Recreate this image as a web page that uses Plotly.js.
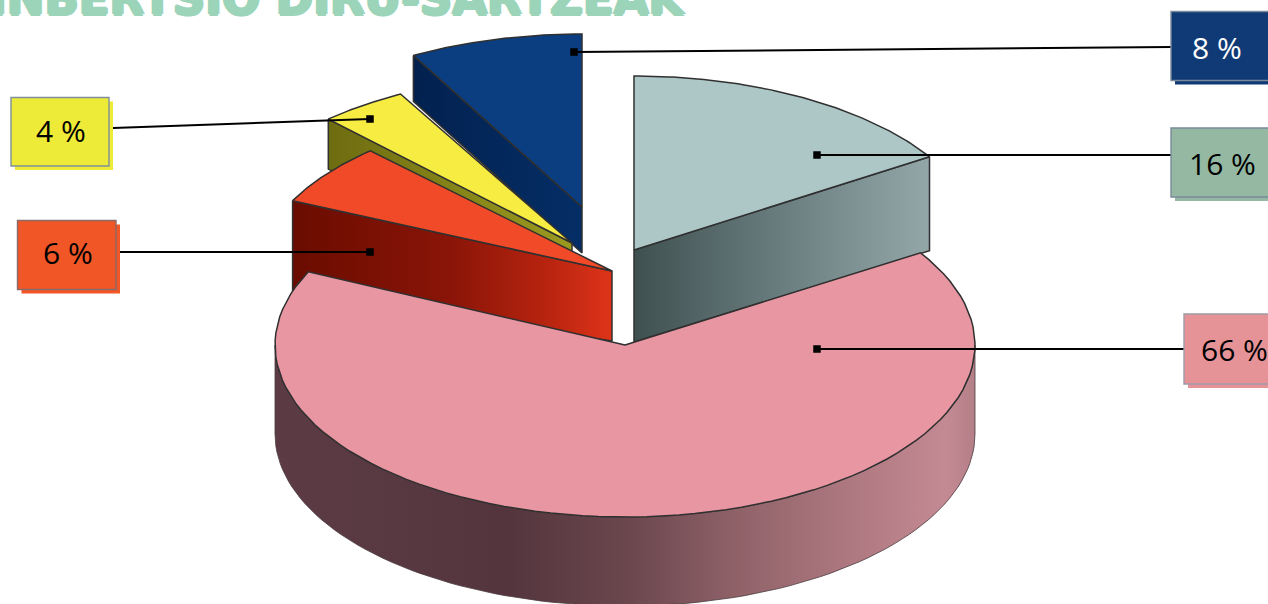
<!DOCTYPE html>
<html><head><meta charset="utf-8">
<script src="https://cdn.plot.ly/plotly-3.0.1.min.js"></script>
<style>html,body{margin:0;padding:0;background:#fff;overflow:hidden}</style>
</head><body><div id="chart" style="width:1268px;height:604px"></div>
<script>
// ---- data ----
const chartTitle = "INBERTSIO DIRU-SARTZEAK";
const percentValues = [16, 66, 6, 4, 8];           // clockwise from 12 o'clock
const percentLabels = ["16 %", "66 %", "6 %", "4 %", "8 %"];

// ---- styles ----
const topColors = ["#adc7c7", "#e896a2", "#f04a28", "#f6ec42", "#0a3e80"];
const boxColors = ["#95b8a3", "#e69398", "#f15627", "#eeea38", "#0f3a75"];
const boxBorders = ["#7a8a9a", "#a09aa8", "#8a6a6a", "#7f8f9a", "#7a8a9a"];
const textColors = ["#000", "#000", "#000", "#000", "#fff"];
const wallScales = [
  [[0,"#3f5050"],[0.45,"#66797a"],[1,"#93a7a9"]],
  [[0,"#5c3b45"],[0.33,"#54353d"],[0.5,"#6a464d"],[0.66,"#8f6268"],[0.82,"#ae7880"],[0.96,"#c48a93"],[1,"#b47f88"]],
  [[0,"#6a0c00"],[0.5,"#8a1508"],[0.8,"#b8240f"],[1,"#de3419"]],
  [[0,"#6e6c10"],[1,"#9a9a20"]],
  [[0,"#02214f"],[1,"#052e66"]]
];
// ---- projection of each exploded slice (pixel space of the hidden axes) ----
const radiusX = [350, 350, 353, 356, 350];
const radiusY = [174, 172, 165, 170, 173];
const apexX = [634, 625, 612, 572, 582];
const apexY = [250, 345, 271, 243, 207];
const wallDepth = [92, 89, 70, 50, 46];
// ---- label boxes / leaders ----
const boxX0 = [1171, 1184, 17.5, 11, 1171];
const boxX1 = [1275, 1275, 116, 109, 1275];
const boxY0 = [128, 314, 220.5, 97.5, 11.5];
const boxY1 = [197, 384, 289.5, 166, 80.5];
const textX = [1222, 1234, 68, 60.5, 1217];
const textY = [163.5, 349, 252.5, 130, 47];
const leadX0 = [817, 817, 370, 370, 574];
const leadY0 = [155, 349, 252, 119, 52];
const leadX1 = [1171, 1188, 120, 113, 1171];
const leadY1 = [155, 349, 252, 128, 47];

const total = percentValues.reduce((a, b) => a + b, 0);
let acc = 0;
const startT = [], endT = [];
percentValues.forEach(v => { startT.push(acc / total * 2 * Math.PI); acc += v; endT.push(acc / total * 2 * Math.PI); });

function arc(i, t0, t1, cy) {
  const xs = [], ys = [], n = 90;
  for (let k = 0; k <= n; k++) {
    const t = t0 + (t1 - t0) * k / n;
    xs.push(apexX[i] + radiusX[i] * Math.sin(t));
    ys.push(cy - radiusY[i] * Math.cos(t));
  }
  return [xs, ys];
}
const outline = "#303030";
function poly(xs, ys, style) {
  return Object.assign({ type: "scatter", mode: "lines", x: xs, y: ys, fill: "toself",
    hoverinfo: "skip", showlegend: false, line: { color: outline, width: 1.5 } }, style);
}
function topFace(i) {
  const [xs, ys] = arc(i, startT[i], endT[i], apexY[i]);
  return poly([apexX[i], ...xs, apexX[i]], [apexY[i], ...ys, apexY[i]], { fillcolor: topColors[i] });
}
function grad(i) { return { fillgradient: { type: "horizontal", colorscale: wallScales[i] } }; }
// radial wall along the edge at angle t
function radialWall(i, t, extraOuter) {
  const ex = apexX[i] + radiusX[i] * Math.sin(t), ey = apexY[i] - radiusY[i] * Math.cos(t), d = wallDepth[i];
  const xs = [ex, apexX[i], apexX[i], ex, ex];
  const ys = [ey, apexY[i], apexY[i] + d, ey + d + (extraOuter || 0), ey];
  return poly(xs, ys, grad(i));
}
function outerWall(i) {
  const [xs, ys] = arc(i, Math.PI / 2, 3 * Math.PI / 2, apexY[i]);
  const xb = xs.slice().reverse(), yb = ys.map(v => v + wallDepth[i]).reverse();
  return poly([...xs, ...xb, xs[0]], [...ys, ...yb, ys[0]],
    Object.assign(grad(i), { line: { color: "#4a3a3e", width: 0.8 } }));
}

const traces = [
  radialWall(4, startT[4]), topFace(4),
  radialWall(3, startT[3]), topFace(3),
  radialWall(2, startT[2], 22), topFace(2),
  radialWall(0, endT[0], 2), topFace(0),
  outerWall(1), topFace(1)
];
percentValues.forEach((v, i) => {
  traces.push({ type: "scatter", mode: "lines", x: [leadX0[i], leadX1[i]], y: [leadY0[i], leadY1[i]],
    line: { color: "#000", width: 2 }, hoverinfo: "skip", showlegend: false });
  traces.push({ type: "scatter", mode: "markers", x: [leadX0[i]], y: [leadY0[i]],
    marker: { symbol: "square", size: 7.5, color: "#000", line: { width: 0 } }, hoverinfo: "skip", showlegend: false });
});

const shapes = [], annotations = [];
percentValues.forEach((v, i) => {
  shapes.push({ type: "rect", layer: "above", x0: boxX0[i] + 4, x1: boxX1[i] + 4, y0: boxY0[i] + 4, y1: boxY1[i] + 4,
    fillcolor: boxColors[i], line: { width: 0 } });
  shapes.push({ type: "rect", layer: "above", x0: boxX0[i], x1: boxX1[i], y0: boxY0[i], y1: boxY1[i],
    fillcolor: boxColors[i], line: { color: boxBorders[i], width: 1.4 } });
  annotations.push({ x: textX[i], y: textY[i], xref: "x", yref: "y", text: percentLabels[i], showarrow: false,
    xanchor: "center", yanchor: "middle", font: { family: "Open Sans, Noto Sans, sans-serif", size: 30, color: textColors[i] } });
});
const tc = "#9bd4b8";
annotations.push({ x: 688, y: 17, xref: "x", yref: "y", text: chartTitle, showarrow: false, xanchor: "right", yanchor: "bottom",
  yshift: -10, font: { family: "DejaVu Sans, sans-serif", size: 45, weight: 700, color: tc,
    shadow: `1.5px 0 0 ${tc}, -1.5px 0 0 ${tc}, 0 1.5px 0 ${tc}, 0 -1.5px 0 ${tc}` } });

Plotly.newPlot("chart", traces, {
  width: 1268, height: 604, margin: { l: 0, r: 0, t: 0, b: 0, pad: 0 },
  paper_bgcolor: "#fff", plot_bgcolor: "#fff", showlegend: false,
  xaxis: { range: [0, 1268], visible: false, fixedrange: true },
  yaxis: { range: [604, 0], visible: false, fixedrange: true },
  shapes, annotations
}, { displayModeBar: false, staticPlot: true });
</script></body></html>
